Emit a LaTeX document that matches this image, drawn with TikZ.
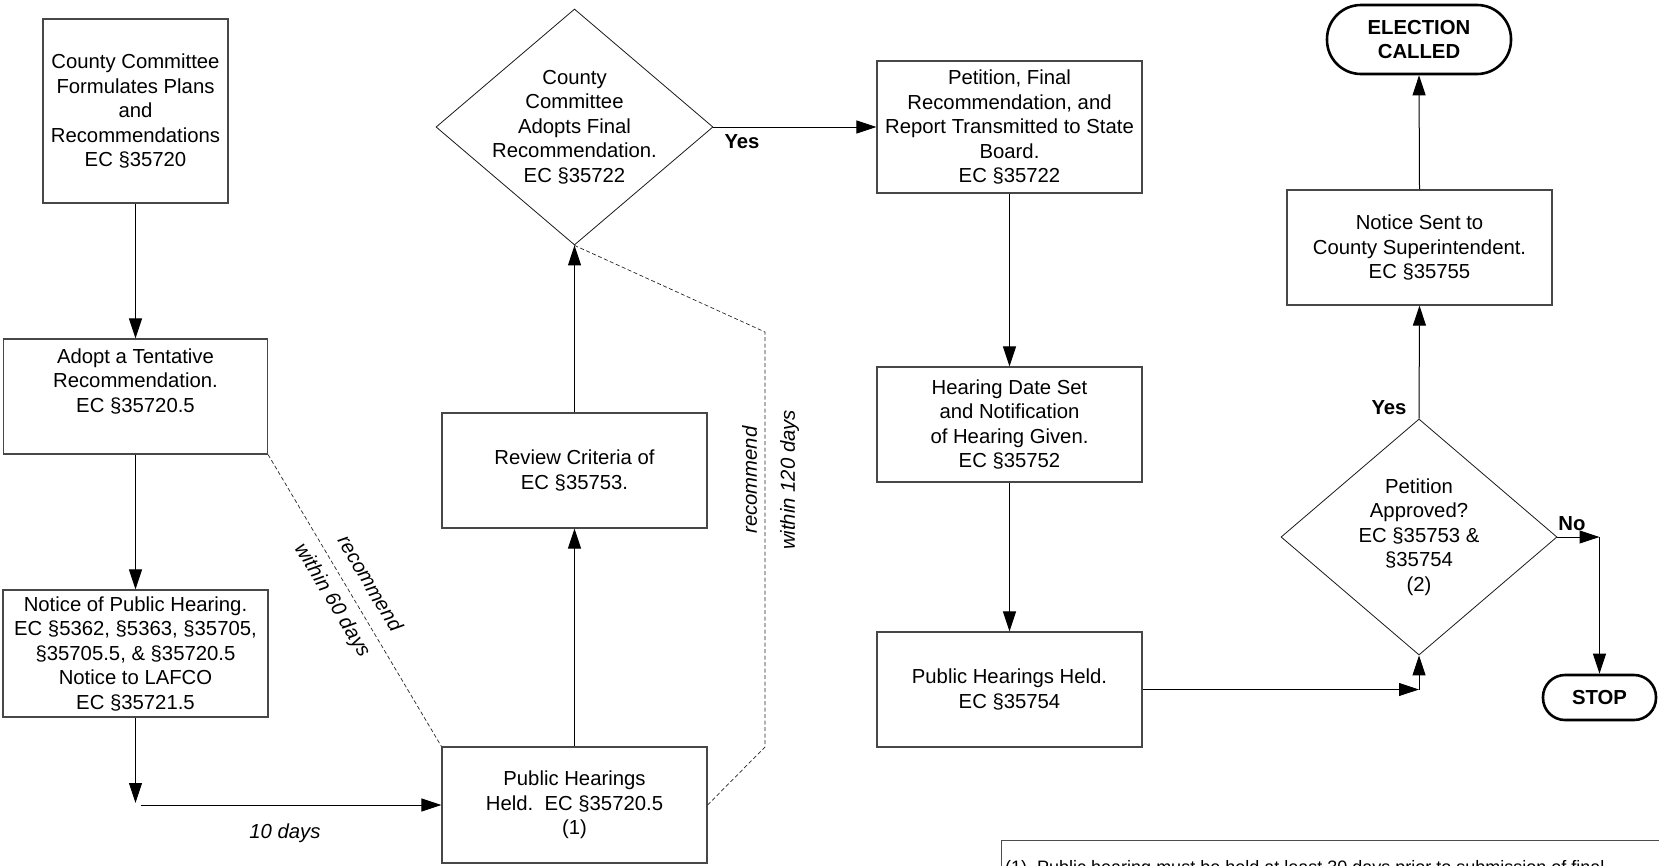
\documentclass[tikz,border=0pt]{standalone}
\usepackage{fontspec}
\setmainfont{Liberation Sans}
\usetikzlibrary{arrows.meta,shapes.geometric}
\begin{document}
\begin{tikzpicture}[x=1pt,y=-1pt,
  font=\fontsize{20.3}{24.5}\selectfont,
  box/.style={draw=black!72,line width=1.2pt,rectangle,inner sep=0pt,align=center},
  dia/.style={draw=black!90,line width=0.8pt,diamond,inner sep=0pt},
  term/.style={draw=black,line width=2.6pt,rectangle,inner sep=0pt,align=center,
               font=\fontsize{20.3}{24}\selectfont\bfseries},
  txt/.style={inner sep=0pt,align=center},
  arr/.style={draw=black,line width=1pt,-{Triangle[length=20pt,width=13pt]}},
  dsh/.style={draw=black!85,line width=0.7pt,dash pattern=on 4pt off 2.5pt},
  lbl/.style={inner sep=0pt,font=\fontsize{20.3}{24.5}\selectfont\bfseries},
  itl/.style={inner sep=0pt,font=\fontsize{20.3}{24.5}\selectfont\itshape}
]
\useasboundingbox (0,0) rectangle (1659,865);

% left column
\node[box,minimum width=185pt,minimum height=184pt] (b1) at (135.5,111)
  {County Committee\\Formulates Plans\\and\\Recommendations\\EC §35720};
\node[box,minimum width=264pt,minimum height=115pt] (b2) at (135.5,396.5)
  {Adopt a Tentative\\Recommendation.\\EC §35720.5\\\strut};
\node[box,minimum width=265pt,minimum height=127pt] (b3) at (135.5,653.5)
  {Notice of Public Hearing.\\EC §5362, §5363, §35705,\\§35705.5, \& §35720.5\\Notice to LAFCO\\EC §35721.5};

% second column
\node[box,minimum width=265pt,minimum height=116pt] (ph1) at (574.5,805)
  {Public Hearings\\Held.\ \ EC §35720.5\\(1)};
\node[box,minimum width=265pt,minimum height=115pt] (rev) at (574.5,470.5)
  {Review Criteria of\\EC §35753.};
\node[dia,minimum width=277pt,minimum height=236pt] (d1) at (574.5,127) {};
\node[txt] (d1t) at (d1.center)
  {County\\Committee\\Adopts Final\\Recommendation.\\EC §35722};

% third column
\node[box,minimum width=265pt,minimum height=132pt] (pet) at (1009.5,127)
  {Petition, Final\\Recommendation, and\\Report Transmitted to State\\Board.\\EC §35722};
\node[box,minimum width=265pt,minimum height=115pt] (hds) at (1009.5,424.5)
  {Hearing Date Set\\and Notification\\of Hearing Given.\\EC §35752};
\node[box,minimum width=265pt,minimum height=115pt] (phh) at (1009.5,689.5)
  {Public Hearings Held.\\EC §35754};

% right column
\node[dia,minimum width=276pt,minimum height=236pt] (d2) at (1419,537) {};
\node[txt] (d2t) at (d2.center)
  {Petition\\Approved?\\EC §35753 \&\\§35754\\(2)};
\node[box,minimum width=265pt,minimum height=115pt] (nss) at (1419.5,247.5)
  {Notice Sent to\\County Superintendent.\\EC §35755};
\node[term,minimum width=184pt,minimum height=69pt,rounded corners=34pt] (elec) at (1419,39.5)
  {ELECTION\\CALLED};
\node[term,minimum width=113pt,minimum height=45pt,rounded corners=22pt] (stop) at (1599.5,697.5)
  {STOP};

% footnote box
\node[draw=black!70,line width=1.2pt,anchor=north west,minimum width=720pt,minimum height=120pt,inner sep=0pt] (fn) at (1001,840) {};
\node[anchor=base west,inner sep=0pt,font=\fontsize{18}{22}\selectfont] (fnt) at (1005,873)
  {(1)\ \ Public hearing must be held at least 30 days prior to submission of final};

% branch labels
\node[lbl] (yes1) at (742,142) {Yes};
\node[lbl] (yes2) at (1389,408) {Yes};
\node[lbl] (no) at (1572,524) {No};
\node[itl] (ten) at (285,833) {10 days};

% connectors
\draw[arr] (b1.south) -- (b2.north);
\draw[arr] (b2.south) -- (b3.north);
\coordinate (j1) at (135.5,805);
\draw[arr] (b3.south) -- ([yshift=2pt]j1);
\draw[arr] ([xshift=5pt]j1) -- (ph1.west);
\draw[arr] (ph1.north) -- (rev.south);
\draw[arr] (rev.north) -- (d1.south);
\draw[arr] (d1.east) -- (pet.west);
\draw[arr] (pet.south) -- (hds.north);
\draw[arr] (hds.south) -- (phh.north);
\coordinate (j2) at (d2.south |- phh.east);
\draw[arr] (phh.east) -- (j2);
\draw[arr] (j2) -- (d2.south);
\draw[arr] (d2.north) -- (nss.south);
\draw[arr] (nss.north) -- (elec.south);
\coordinate (j3) at (stop.north |- d2.east);
\draw[arr] (d2.east) -- (j3);
\draw[arr] (j3) -- (stop.north);

% time limits
\draw[dsh] (b2.south east) -- (ph1.north west);
\node[itl,rotate=-59.2] (r60) at (370.7,583.3) {recommend};
\node[itl,rotate=-59.2] (w60) at (332.3,600.7) {within 60 days};
\coordinate (k1) at (765,747);
\coordinate (k2) at (765,332);
\draw[dsh] (ph1.east) -- (k1) -- (k2) -- (d1.south);
\node[itl,rotate=90] (r120) at (749.5,480) {recommend};
\node[itl,rotate=90] (w120) at (789.5,480) {within 120 days};
\end{tikzpicture}
\end{document}
